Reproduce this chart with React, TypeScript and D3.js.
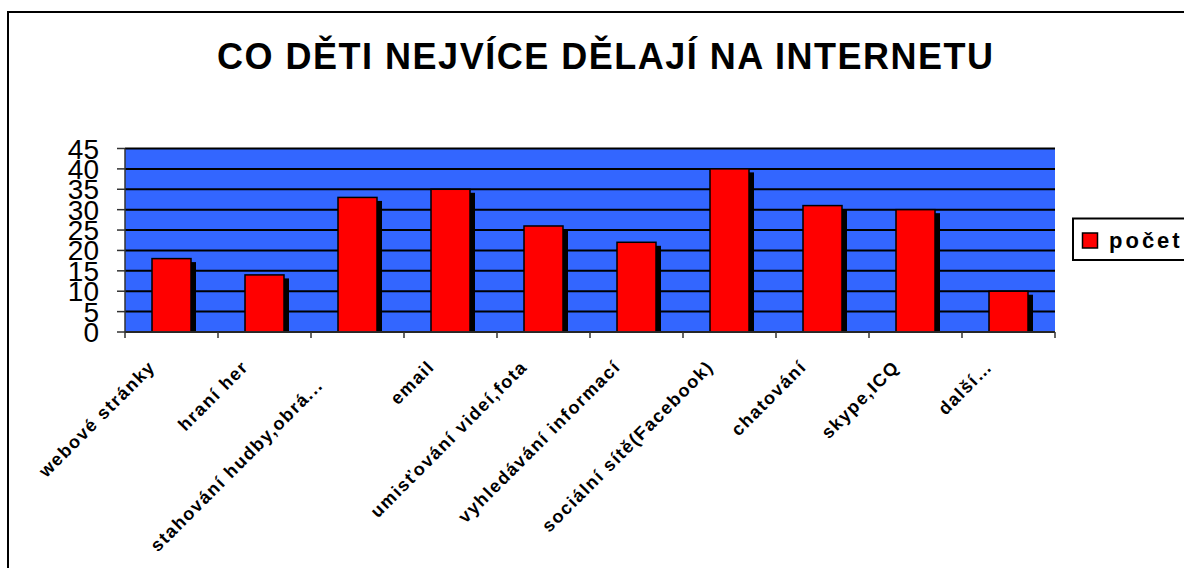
import React from "react";
import * as d3 from "d3";

const categories = [
  "webové stránky",
  "hraní her",
  "stahování hudby,obrá...\u00a0\u00a0\u00a0\u00a0",
  "email",
  "umisťování videí,fota",
  "vyhledávání informací",
  "sociální sítě(Facebook)",
  "chatování",
  "skype,ICQ",
  "další…",
];
const values = [18, 14, 33, 35, 26, 22, 40, 31, 30, 10];
const yTicks = [0, 5, 10, 15, 20, 25, 30, 35, 40, 45];
const seriesName = "počet";
const title = "CO DĚTI NEJVÍCE DĚLAJÍ NA INTERNETU";

const W = 1184;
const H = 568;
const plot = { left: 125, right: 1055, top: 148.5, bottom: 332 };

export default function App() {
  const x = d3
    .scaleBand<string>()
    .domain(categories)
    .range([plot.left, plot.right])
    .paddingInner(0)
    .paddingOuter(0);
  const y = d3.scaleLinear().domain([0, 45]).range([plot.bottom, plot.top]);
  const bw = 39;
  const font = "Arial, 'Liberation Sans', Helvetica, sans-serif";

  return (
    <svg
      width={W}
      height={H}
      style={{ position: "absolute", left: 0, top: 0, display: "block", background: "#fff" }}
    >
      <rect x={8} y={12} width={1300} height={700} fill="#fff" stroke="#000" strokeWidth={2} />
      <text
        x={605}
        y={69}
        textAnchor="middle"
        fontFamily={font}
        fontWeight="bold"
        fontSize={36}
        textLength={776}
        lengthAdjust="spacing"
      >
        {title}
      </text>

      {/* plot area */}
      <rect
        x={plot.left}
        y={plot.top}
        width={plot.right - plot.left}
        height={plot.bottom - plot.top}
        fill="#3366FF"
      />
      {yTicks.map((t) => (
        <line
          key={"g" + t}
          x1={plot.left}
          x2={plot.right}
          y1={y(t)}
          y2={y(t)}
          stroke="#000"
          strokeWidth={2}
        />
      ))}

      {/* bars with shadows */}
      <defs>
        <clipPath id="plotclip">
          <rect x={plot.left} y={0} width={plot.right - plot.left + 10} height={plot.bottom} />
        </clipPath>
      </defs>
      <g clipPath="url(#plotclip)">
        {categories.map((c, i) => {
          const cx = (x(c) as number) + x.bandwidth() / 2;
          return (
            <rect
              key={"s" + i}
              x={cx - bw / 2 + 5}
              y={y(values[i]) + 3.5}
              width={bw}
              height={plot.bottom - y(values[i])}
              fill="#000"
            />
          );
        })}
      </g>
      {categories.map((c, i) => {
        const cx = (x(c) as number) + x.bandwidth() / 2;
        return (
          <rect
            key={"b" + i}
            x={cx - bw / 2}
            y={y(values[i])}
            width={bw}
            height={plot.bottom - y(values[i])}
            fill="#FF0000"
            stroke="#000"
            strokeWidth={1.5}
          />
        );
      })}

      {/* axes */}
      <line x1={plot.left} x2={plot.left} y1={plot.top} y2={plot.bottom} stroke="#333" strokeWidth={1.5} />
      <line x1={plot.left} x2={plot.right} y1={plot.bottom} y2={plot.bottom} stroke="#333" strokeWidth={1.5} />
      {yTicks.map((t) => (
        <g key={"yt" + t}>
          <line x1={plot.left - 8} x2={plot.left} y1={y(t)} y2={y(t)} stroke="#333" strokeWidth={1.5} />
          <text
            x={99}
            y={y(t) + 10}
            textAnchor="end"
            fontFamily={font}
            fontSize={28}
            fill="#000"
          >
            {t}
          </text>
        </g>
      ))}
      {[...categories.map((c) => x(c) as number), plot.right].map((px, i) => (
        <line key={"xt" + i} x1={px} x2={px} y1={plot.bottom} y2={plot.bottom + 6} stroke="#333" strokeWidth={1.5} />
      ))}
      {categories.map((c, i) => {
        const cx = (x(c) as number) + x.bandwidth() / 2;
        return (
          <text
            key={"xl" + i}
            transform={`translate(${cx - 15},${368}) rotate(-45)`}
            textAnchor="end"
            fontFamily={font}
            fontWeight="bold"
            fontSize={18}
            letterSpacing={1.5}
            style={{ whiteSpace: "pre" }}
          >
            {c}
          </text>
        );
      })}

      {/* legend */}
      <rect x={1073} y={218.5} width={140} height={41.5} fill="#fff" stroke="#000" strokeWidth={2} />
      <rect x={1082.5} y={233} width={15} height={15} fill="#FF0000" stroke="#000" strokeWidth={1.5} />
      <text x={1109} y={248} fontFamily={font} fontWeight="bold" fontSize={22} letterSpacing={3}>
        {seriesName}
      </text>
    </svg>
  );
}
